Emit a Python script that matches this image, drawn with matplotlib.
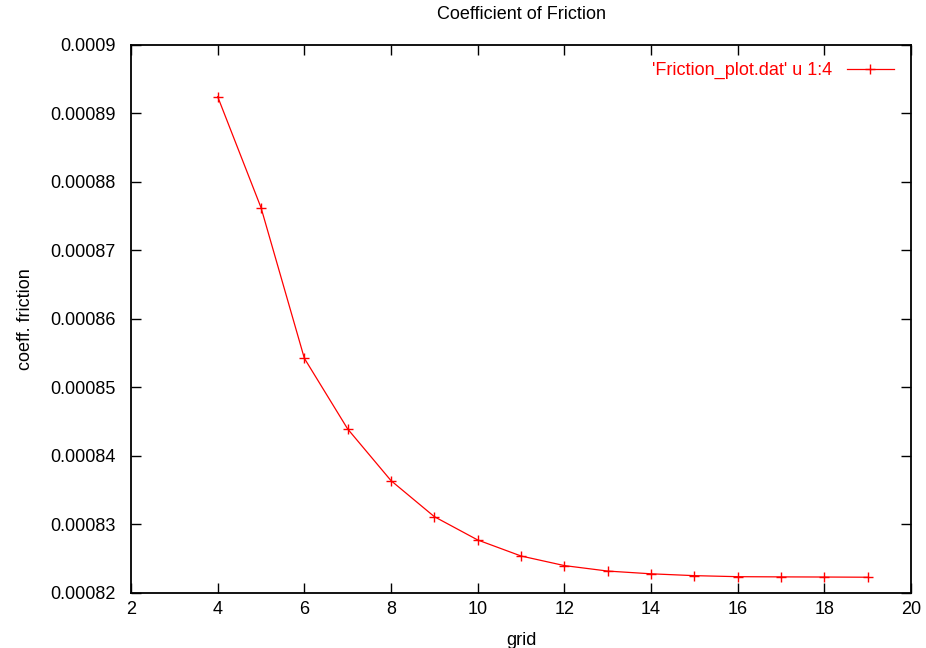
import matplotlib
matplotlib.use("Agg")
import matplotlib.pyplot as plt

# grid size vs. coefficient of friction (column 1 vs column 4 of Friction_plot.dat)
grid = [4, 5, 6, 7, 8, 9, 10, 11, 12, 13, 14, 15, 16, 17, 18, 19]
coeff = [0.00089245, 0.00087625, 0.00085426, 0.00084394, 0.0008364,
         0.00083114, 0.00082774, 0.0008254, 0.000824, 0.0008232,
         0.0008228, 0.00082253, 0.00082238, 0.00082235, 0.00082233,
         0.0008223]

xticks = [2, 4, 6, 8, 10, 12, 14, 16, 18, 20]
yticks = [0.00082, 0.00083, 0.00084, 0.00085, 0.00086, 0.00087,
          0.00088, 0.00089, 0.0009]
ytick_labels = ["0.00082", "0.00083", "0.00084", "0.00085", "0.00086",
                "0.00087", "0.00088", "0.00089", "0.0009"]

fs = 13
plt.rcParams['font.family'] = ['Liberation Sans', 'DejaVu Sans']
plt.rcParams['font.size'] = fs

fig = plt.figure(figsize=(9.26, 6.48), dpi=100, facecolor='white')
ax = fig.add_axes([0.1415, 0.0849, 0.8423, 0.8457])

line, = ax.plot(grid, coeff, color='#ff0000', linewidth=0.9, marker='+',
                markersize=6.5, markeredgewidth=1.0,
                label="'Friction_plot.dat' u 1:4")

ax.set_xlim(2, 20)
ax.set_ylim(0.00082, 0.0009)
ax.set_xticks(xticks)
ax.set_xticklabels([str(t) for t in xticks])
ax.set_yticks(yticks)
ax.set_yticklabels(ytick_labels)

ax.tick_params(direction='in', length=7, width=1.0, top=True, right=True,
               labelsize=fs)
ax.tick_params(axis='y', pad=11)
ax.tick_params(axis='x', pad=6)
for s in ax.spines.values():
    s.set_linewidth(1.3)

ax.set_title('Coefficient of Friction', fontsize=fs, pad=19)
ax.set_xlabel('grid', fontsize=fs, labelpad=10)
ax.set_ylabel('coeff. friction', fontsize=fs, labelpad=12)

leg = ax.legend(loc='upper right', frameon=False, markerfirst=False,
                handlelength=2.6, handletextpad=0.8, borderaxespad=0.55,
                fontsize=fs)
for t in leg.get_texts():
    t.set_color('#ff0000')

fig.savefig('out.png', dpi=100)
